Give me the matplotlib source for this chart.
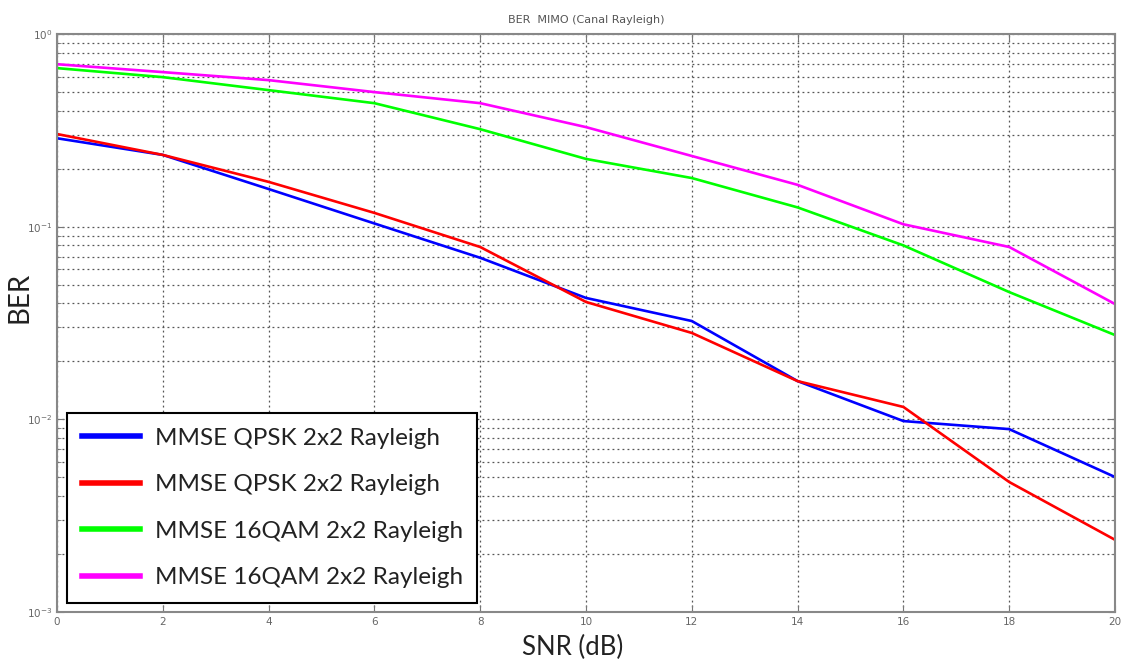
import numpy as np
import matplotlib
matplotlib.use("Agg")
import matplotlib.pyplot as plt
from matplotlib.ticker import LogLocator, NullFormatter

# SNR points (dB) and BER values
snr = [0, 2, 4, 6, 8, 10, 12, 14, 16, 18, 20]
ber_qpsk_a = [0.288, 0.236, 0.157, 0.104, 0.069, 0.0427, 0.0324, 0.0158, 0.0098, 0.0089, 0.00502]
ber_qpsk_b = [0.303, 0.236, 0.171, 0.118, 0.0785, 0.0407, 0.0281, 0.0158, 0.0116, 0.00473, 0.00237]
ber_16qam_a = [0.666, 0.598, 0.512, 0.438, 0.321, 0.225, 0.179, 0.126, 0.080, 0.0458, 0.0274]
ber_16qam_b = [0.698, 0.635, 0.577, 0.500, 0.438, 0.329, 0.233, 0.165, 0.103, 0.0785, 0.0397]

labels = ["MMSE QPSK 2x2 Rayleigh", "MMSE QPSK 2x2 Rayleigh",
          "MMSE 16QAM 2x2 Rayleigh", "MMSE 16QAM 2x2 Rayleigh"]
colors = ["#0000ff", "#ff0000", "#00ff00", "#ff00ff"]

fig = plt.figure(figsize=(11.24, 6.69), dpi=100)
ax = fig.add_axes([0.0507, 0.0852, 0.9413, 0.8638])

for y, c, lab in zip([ber_qpsk_a, ber_qpsk_b, ber_16qam_a, ber_16qam_b], colors, labels):
    ax.semilogy(snr, y, color=c, linewidth=1.9, label=lab)

ax.set_xlim(0, 20)
ax.set_ylim(1e-3, 1)
ax.set_xticks(range(0, 21, 2))
ax.yaxis.set_major_locator(LogLocator(base=10, numticks=10))
ax.yaxis.set_minor_locator(LogLocator(base=10, subs=np.arange(2, 10), numticks=20))
ax.yaxis.set_minor_formatter(NullFormatter())

ax.grid(True, which="major", linestyle=(0, (1.5, 2.5)), color="#555555", linewidth=0.9)
ax.grid(True, which="minor", axis="y", linestyle=(0, (1.5, 2.5)), color="#555555", linewidth=0.9)

ax.tick_params(which="both", direction="in", top=True, right=True, colors="#777777",
               labelcolor="#666666", labelsize=7.5)
ax.tick_params(which="major", length=5)
ax.tick_params(which="minor", length=3)
for s in ax.spines.values():
    s.set_color("#888888")
    s.set_linewidth(1.5)

ax.set_title("BER  MIMO (Canal Rayleigh)", fontsize=8, color="#555555", pad=8)
ax.set_xlabel("SNR (dB)", fontsize=18.5, family="Lato", color="#222222")
ax.xaxis.set_label_coords(0.487, -0.04)
ax.set_ylabel("BER", fontsize=20, family="Lato", color="#222222")
ax.yaxis.set_label_coords(-0.0236, 0.545)

leg = ax.legend(loc="lower left", bbox_to_anchor=(0.0095, 0.0156), borderaxespad=0,
                fancybox=False, framealpha=1, edgecolor="black", handlelength=2.4,
                handletextpad=0.6, labelspacing=1.05, borderpad=0.6,
                prop={"family": "Lato", "size": 17.5})
leg.get_frame().set_linewidth(1.5)
for h in leg.get_lines():
    h.set_linewidth(4)
for t in leg.get_texts():
    t.set_color("#222222")

fig.savefig("out.png", dpi=100)
